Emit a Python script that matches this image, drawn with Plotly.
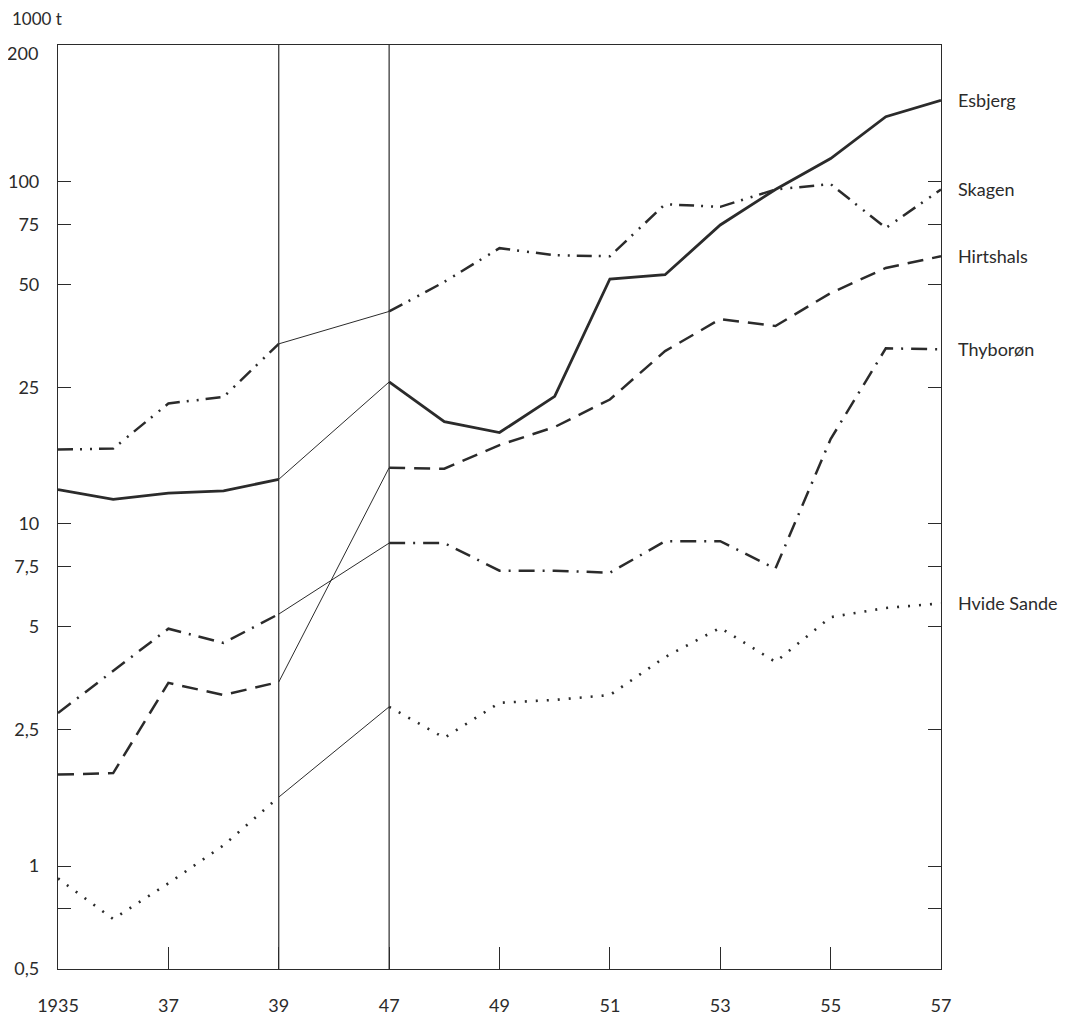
import math
import plotly.graph_objects as go

# ---- data ----
years = [1935, 1936, 1937, 1938, 1939,
         1947, 1948, 1949, 1950, 1951, 1952, 1953, 1954, 1955, 1956, 1957]

esbjerg = [12.6, 11.8, 12.3, 12.5, 13.5,
           26.0, 19.9, 18.5, 23.6, 52.0, 53.5, 74.8, 95.0, 117, 155, 173]
skagen = [16.5, 16.6, 22.5, 23.5, 33.6,
          41.8, 51.0, 64.0, 61.0, 60.6, 86.0, 84.5, 95.0, 98.5, 73.3, 95.0]
hirtshals = [1.85, 1.87, 3.43, 3.16, 3.45,
             14.6, 14.5, 17.0, 19.2, 23.1, 32.0, 39.7, 37.9, 47.3, 56.0, 60.6]
thyboron = [2.80, 3.72, 4.94, 4.49, 5.45,
            8.79, 8.79, 7.3, 7.3, 7.2, 8.9, 8.9, 7.4, 17.7, 32.6, 32.4]
hvide_sande = [0.92, 0.70, 0.89, 1.15, 1.59,
               2.92, 2.37, 3.0, 3.06, 3.16, 4.08, 4.97, 3.95, 5.34, 5.68, 5.86]

series_names = ["Esbjerg", "Skagen", "Hirtshals", "Thyborøn", "Hvide Sande"]
series_values = [esbjerg, skagen, hirtshals, thyboron, hvide_sande]

x_tick_years = [1935, 1937, 1939, 1947, 1949, 1951, 1953, 1955, 1957]
x_tick_labels = ["1935", "37", "39", "47", "49", "51", "53", "55", "57"]

y_tick_vals = [0.5, 0.75, 1, 2.5, 5, 7.5, 10, 25, 50, 75, 100]
y_tick_labels = ["0,5", "", "1", "2,5", "5", "7,5", "10", "25", "50", "75", "100"]

# ---- styles ----
INK = "#2b2b2b"
styles = {
    "Esbjerg": dict(dash="solid", width=2.8),
    "Skagen": dict(dash="15px,7px,2px,8px,2px,7px", width=2.5),
    "Hirtshals": dict(dash="16px,9px", width=2.5),
    "Thyborøn": dict(dash="16px,8px,2px,8px", width=2.5),
    "Hvide Sande": dict(dash="2px,9px", width=2.6),
}


def pos(year):
    # broken time axis: 1935-39, a gap, then 1947-57
    return year - 1935 if year < 1940 else year - 1941


xs = [pos(y) for y in years]
split = years.index(1947)

fig = go.Figure()
for name, vals in zip(series_names, series_values):
    st = styles[name]
    fig.add_trace(go.Scatter(x=xs[:split], y=vals[:split], mode="lines",
                             line=dict(color=INK, width=st["width"], dash=st["dash"]),
                             showlegend=False, hoverinfo="skip"))
    fig.add_trace(go.Scatter(x=xs[split - 1:split + 1], y=vals[split - 1:split + 1],
                             mode="lines", line=dict(color=INK, width=1),
                             showlegend=False, hoverinfo="skip"))
    fig.add_trace(go.Scatter(x=xs[split:], y=vals[split:], mode="lines",
                             line=dict(color=INK, width=st["width"], dash=st["dash"]),
                             showlegend=False, hoverinfo="skip"))
    fig.add_annotation(x=xs[-1], y=math.log10(vals[-1]), text=name,
                       xanchor="left", yanchor="middle", xshift=15, showarrow=False,
                       font=dict(size=18, color=INK))

for yr in (1939, 1947):
    fig.add_shape(type="line", xref="x", yref="paper", x0=pos(yr), x1=pos(yr),
                  y0=0, y1=1, line=dict(color=INK, width=1.2))

fig.add_annotation(xref="paper", yref="paper", x=-0.02, y=0.991, text="200",
                   xanchor="right", yanchor="middle", showarrow=False,
                   font=dict(size=18, color=INK))
fig.add_annotation(xref="paper", yref="paper", x=-0.054, y=1.029, text="1000 t",
                   xanchor="left", yanchor="middle", showarrow=False,
                   font=dict(size=17, color=INK))

fig.update_layout(
    width=1084, height=1019,
    margin=dict(l=50, r=151, t=37, b=58, autoexpand=False),
    paper_bgcolor="white", plot_bgcolor="white",
    font=dict(family="Lato, 'Open Sans', sans-serif", size=18, color=INK),
    xaxis=dict(range=[0, pos(1957)], tickvals=[pos(y) for y in x_tick_years],
               ticktext=x_tick_labels, ticks="inside", ticklen=22, tickwidth=1.2,
               tickcolor=INK, showline=True, linecolor=INK, linewidth=1.2,
               mirror=True, showgrid=False, zeroline=False, automargin=False,
               ticklabelstandoff=20, tickfont=dict(size=18)),
    yaxis=dict(type="log", range=[math.log10(0.5), 2.40], tickvals=y_tick_vals,
               ticktext=y_tick_labels, ticks="inside", ticklen=13, tickwidth=1.2,
               tickcolor=INK, showline=True, linecolor=INK, linewidth=1.2,
               mirror="ticks", showgrid=False, zeroline=False, automargin=False,
               ticklabelstandoff=14, tickfont=dict(size=18)),
)

fig.write_html("out.html")
